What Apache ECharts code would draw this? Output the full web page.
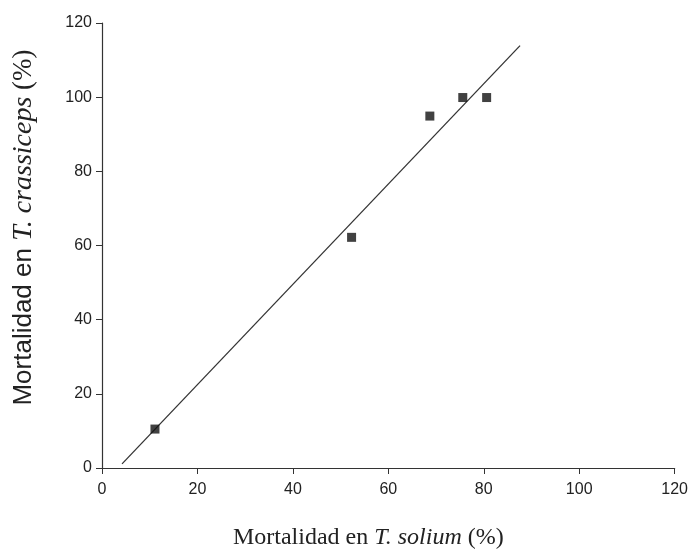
<!DOCTYPE html>
<html>
<head>
<meta charset="utf-8">
<script src="https://cdn.jsdelivr.net/npm/echarts@6/dist/echarts.min.js"></script>
<style>
html,body{margin:0;padding:0;background:#fff;}
#chart{width:691px;height:555px;}
</style>
</head>
<body>
<div id="chart"></div>
<script>
// Observed data: mortality in T. solium (x) vs T. crassiceps (y), %
var solium = [11.1, 52.3, 68.7, 75.6, 80.6];
var crassiceps = [10.5, 62.2, 94.9, 99.9, 99.9];
// Fitted line endpoints
var fitX = [4.2, 87.6];
var fitY = [1.1, 113.9];
// Axis ticks
var xTicks = [0, 20, 40, 60, 80, 100, 120];
var yTicks = [0, 20, 40, 60, 80, 100, 120];

var points = solium.map(function (x, i) { return [x, crassiceps[i]]; });
var fitLine = fitX.map(function (x, i) { return [x, fitY[i]]; });

var chart = echarts.init(document.getElementById('chart'));
function axisBase(ticks, labelMargin) {
  return {
    type: 'value',
    min: ticks[0],
    max: ticks[ticks.length - 1],
    interval: ticks[1] - ticks[0],
    splitLine: { show: false },
    axisLine: { show: true, lineStyle: { color: '#333', width: 1.2 } },
    axisTick: { show: true, inside: false, length: 6, lineStyle: { color: '#333', width: 1 } },
    axisLabel: { color: '#222', fontFamily: 'Liberation Sans', fontSize: 16, margin: labelMargin }
  };
}
var xRich = {
  n: { fontFamily: 'Liberation Serif', fontSize: 24, color: '#222' },
  i: { fontFamily: 'Liberation Serif', fontSize: 24, fontStyle: 'italic', color: '#222' }
};
var yRich = {
  s: { fontFamily: 'Liberation Sans', fontSize: 26, color: '#222' },
  i: { fontFamily: 'Liberation Serif', fontSize: 28, fontStyle: 'italic', color: '#222' },
  n: { fontFamily: 'Liberation Serif', fontSize: 27, color: '#222' }
};
chart.setOption({
  animation: false,
  backgroundColor: '#fff',
  grid: { left: 102, right: 13, top: 23, bottom: 86, containLabel: false },
  xAxis: Object.assign(axisBase(xTicks, 14), {
    name: '{n|Mortalidad en }{i|T. solium}{n| (%)}',
    nameLocation: 'middle',
    nameGap: 58,
    nameTextStyle: { rich: xRich, padding: [0, 40, 0, 0] }
  }),
  yAxis: Object.assign(axisBase(yTicks, 10), {
    name: '{s|Mortalidad en }{i|T. crassiceps}{n| (%)}',
    nameLocation: 'middle',
    nameGap: 64,
    nameRotate: 90,
    nameTextStyle: { rich: yRich, padding: [0, 0, 0, 36] }
  }),
  series: [
    {
      type: 'line',
      data: fitLine,
      symbol: 'none',
      lineStyle: { color: '#333', width: 1.3 },
      z: 2
    },
    {
      type: 'scatter',
      data: points,
      symbol: 'rect',
      symbolSize: 9,
      itemStyle: { color: '#111' },
      z: 3
    }
  ]
});
</script>
</body>
</html>
